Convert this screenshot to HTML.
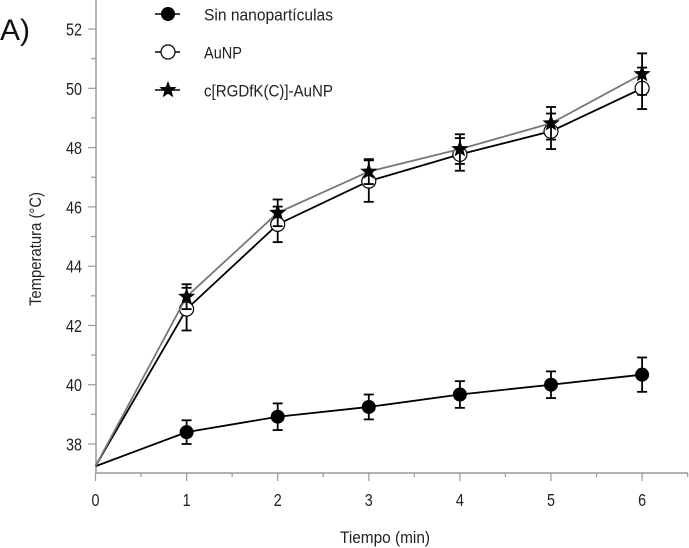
<!DOCTYPE html>
<html><head><meta charset="utf-8"><style>
html,body{margin:0;padding:0;background:#fff;}
svg{display:block;font-family:"Liberation Sans",sans-serif;}
</style></head><body>
<svg id="chart" width="689" height="548" viewBox="0 0 689 548"></svg>
<script>
const categories=[0,1,2,3,4,5,6];
const sinVals=[37.25,38.4,38.92,39.25,39.67,40.0,40.34];
const sinErr=[0,0.4,0.45,0.42,0.45,0.45,0.58];
const aunpVals=[37.25,42.55,45.41,46.87,47.77,48.55,50.0];
const aunpErr=[0,0.72,0.6,0.7,0.55,0.6,0.7];
const rgdVals=[37.25,42.97,45.8,47.19,47.95,48.82,50.48];
const rgdErr=[0,0.42,0.45,0.42,0.5,0.55,0.7];
const yTicks=[38,40,42,44,46,48,50,52];
const xTicks=[0,1,2,3,4,5,6];

const NS="http://www.w3.org/2000/svg";
const svg=document.getElementById('chart');
const X=v=>95.5+v*91.1;
const Y=v=>444-(v-38)*29.64;
function el(tag,attrs,parent){const e=document.createElementNS(NS,tag);for(const k in attrs)e.setAttribute(k,attrs[k]);(parent||svg).appendChild(e);return e;}
function ntext(parent,x,y,str,size,anchor){
 const t=el('text',{x:0,y:0,transform:`translate(${x},${y}) scale(0.82,1)`,'text-anchor':anchor,'font-size':size,fill:'#222'},parent);
 t.textContent=str;return t;
}

const axes=el('g',{});


el('line',{x1:96,y1:0,x2:96,y2:473.5,stroke:'#999','stroke-width':1.5},axes);
el('line',{x1:96,y1:473,x2:688,y2:473,stroke:'#999','stroke-width':1.5},axes);
for(let v=37;v<=53;v++){const y=Y(v);if(y<0||y>472)continue;const major=v%2===0;el('line',{x1:major?88:91,y1:y,x2:96,y2:y,stroke:'#999','stroke-width':1.2},axes);}
yTicks.forEach(v=>{const t=ntext(axes,82,Y(v)+6.5,String(v),17.5,'end');

});
for(let v=0;v<=6.5;v+=0.5){const major=v%1===0;el('line',{x1:X(v),y1:473,x2:X(v),y2:major?481:477,stroke:'#999','stroke-width':1.2},axes);}
xTicks.forEach(v=>{const t=ntext(axes,X(v),506,String(v),17.5,'middle');

});

const yl=el('text',{x:0,y:0,transform:'translate(41,249) rotate(-90)','text-anchor':'middle','font-size':17,fill:'#222',textLength:114,lengthAdjust:'spacingAndGlyphs'});
yl.textContent='Temperatura (°C)';


const xl=el('text',{x:385,y:543,'text-anchor':'middle','font-size':17,fill:'#222',textLength:90,lengthAdjust:'spacingAndGlyphs'});
xl.textContent='Tiempo (min)';


const pl=el('text',{x:0,y:40,'font-size':30,fill:'#111',textLength:30,lengthAdjust:'spacingAndGlyphs'});
pl.textContent='A)';



function star(cx,cy,r){let p=[];for(let i=0;i<10;i++){const a=-Math.PI/2+i*Math.PI/5;const rr=i%2?r*0.42:r;p.push((cx+rr*Math.cos(a)).toFixed(1)+','+(cy+rr*Math.sin(a)).toFixed(1));}return p.join(' ');}
function marker(g,type,cx,cy){
 if(type==='filled')return el('circle',{cx,cy,r:7,fill:'#000'},g);
 if(type==='open')return el('circle',{cx,cy,r:7,fill:'#fff',stroke:'#000','stroke-width':1.2},g);
 return el('polygon',{points:star(cx,cy,9),fill:'#000'},g);
}
function series(name,vals,err,color,type){
 const g=el('g',{});
 
 
 el('polyline',{points:categories.map((c,i)=>X(c)+','+Y(vals[i])).join(' '),fill:'none',stroke:color,'stroke-width':1.8},g);
 categories.forEach((c,i)=>{if(err[i]>0){const x=X(c),y1=Y(vals[i]+err[i]),y2=Y(vals[i]-err[i]);
  el('line',{x1:x,y1,x2:x,y2,stroke:'#000','stroke-width':1.8},g);
  el('line',{x1:x-5,y1,x2:x+5,y2:y1,stroke:'#000','stroke-width':1.8},g);
  el('line',{x1:x-5,y1:y2,x2:x+5,y2,stroke:'#000','stroke-width':1.8},g);}});
 categories.forEach((c,i)=>{if(i>0){const m=marker(g,type,X(c),Y(vals[i]));
  
  }});
}
series('series-sin-nanoparticulas',sinVals,sinErr,'#000','filled');
series('series-aunp',aunpVals,aunpErr,'#000','open');
series('series-rgd-aunp',rgdVals,rgdErr,'#777','star');

const legend=[['Sin nanopartículas','filled',14,129],['AuNP','open',52,38],['c[RGDfK(C)]-AuNP','star',90,129]];
legend.forEach(([label,type,y,w])=>{
 const g=el('g',{});
 
 
 el('line',{x1:155,y1:y,x2:180,y2:y,stroke:'#000','stroke-width':1.5},g);
 marker(g,type,168,y);
 const t=el('text',{x:204,y:y+6.5,'font-size':17,fill:'#222',textLength:w,lengthAdjust:'spacingAndGlyphs'},g);
 t.textContent=label;
});
</script>
</body></html>
